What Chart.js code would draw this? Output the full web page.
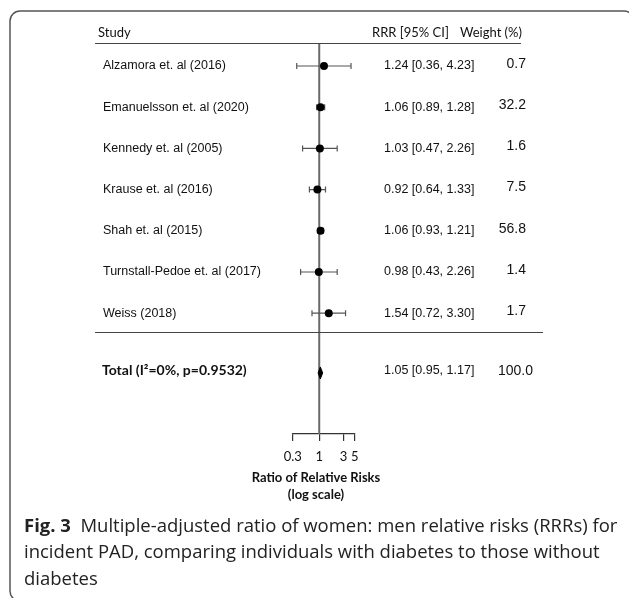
<!DOCTYPE html>
<html>
<head>
<meta charset="utf-8">
<script src="https://cdn.jsdelivr.net/npm/chart.js@4"></script>
<style>
  html, body { margin: 0; padding: 0; background: #fff; }
  #wrap { width: 629px; height: 598px; }
</style>
</head>
<body>
<div id="wrap"><canvas id="forest" width="629" height="598"></canvas></div>
<script>
/* =========================
   DATA
========================= */
const studies = [
  "Alzamora et. al (2016)",
  "Emanuelsson et. al (2020)",
  "Kennedy et. al (2005)",
  "Krause et. al (2016)",
  "Shah et. al (2015)",
  "Turnstall-Pedoe et. al (2017)",
  "Weiss (2018)"
];
const rrr = [1.24, 1.06, 1.03, 0.92, 1.06, 0.98, 1.54];
const ciLow = [0.36, 0.89, 0.47, 0.64, 0.93, 0.43, 0.72];
const ciHigh = [4.23, 1.28, 2.26, 1.33, 1.21, 2.26, 3.30];
const weights = ["0.7", "32.2", "1.6", "7.5", "56.8", "1.4", "1.7"];
const rowPos = [0, 1, 2, 3, 4, 5, 6];

const totalLabel = "Total (I²=0%, p=0.9532)";
const totalRRR = 1.05;
const totalLow = 0.95;
const totalHigh = 1.17;
const totalWeight = "100.0";
const totalPos = 7.45;

const tickValues = [0.3, 1, 3, 5];

const captionBold = "Fig. 3";
const captionLines = [
  "Multiple-adjusted ratio of women: men relative risks (RRRs) for",
  "incident PAD, comparing individuals with diabetes to those without",
  "diabetes"
];

const fmt = (v) => v.toFixed(2);

/* =========================
   PLUGIN: frame, whiskers, text
========================= */
const forestPlugin = {
  id: "forest",
  beforeDatasetsDraw(chart) {
    const ctx = chart.ctx;
    const xs = chart.scales.x;
    const ys = chart.scales.y;
    const area = chart.chartArea;

    // reference line at 1
    const x1 = xs.getPixelForValue(1);
    ctx.save();
    ctx.strokeStyle = "#6a6a6a";
    ctx.lineWidth = 2;
    ctx.beginPath();
    ctx.moveTo(x1, area.top);
    ctx.lineTo(x1, area.bottom);
    ctx.stroke();

    // confidence intervals
    ctx.strokeStyle = "#555";
    ctx.lineWidth = 1.2;
    rowPos.forEach((p, i) => {
      const y = ys.getPixelForValue(p);
      const a = xs.getPixelForValue(ciLow[i]);
      const b = xs.getPixelForValue(ciHigh[i]);
      ctx.beginPath();
      ctx.moveTo(a, y);
      ctx.lineTo(b, y);
      ctx.moveTo(a, y - 3);
      ctx.lineTo(a, y + 3);
      ctx.moveTo(b, y - 3);
      ctx.lineTo(b, y + 3);
      ctx.stroke();
    });
    ctx.restore();
  },
  afterDatasetsDraw(chart) {
    const ctx = chart.ctx;
    const xs = chart.scales.x;
    const ys = chart.scales.y;

    // pooled estimate diamond
    const y = ys.getPixelForValue(totalPos);
    ctx.save();
    ctx.fillStyle = "#000";
    ctx.strokeStyle = "#000";
    ctx.lineWidth = 1;
    ctx.beginPath();
    ctx.moveTo(xs.getPixelForValue(totalLow), y);
    ctx.lineTo(xs.getPixelForValue(totalRRR), y - 6);
    ctx.lineTo(xs.getPixelForValue(totalHigh), y);
    ctx.lineTo(xs.getPixelForValue(totalRRR), y + 6);
    ctx.closePath();
    ctx.fill();
    ctx.stroke();
    ctx.restore();
  },
  afterDraw(chart) {
    const ctx = chart.ctx;
    const ys = chart.scales.y;
    ctx.save();

    // outer frame
    ctx.strokeStyle = "#555";
    ctx.lineWidth = 1.5;
    ctx.beginPath();
    ctx.roundRect(10, 11, 624, 590, 10);
    ctx.stroke();

    // header
    ctx.fillStyle = "#111";
    ctx.textBaseline = "middle";
    ctx.font = "13px Lato";
    ctx.textAlign = "left";
    ctx.fillText("Study", 98, 33);
    ctx.fillText("RRR [95% CI]", 372, 33);
    ctx.fillText("Weight (%)", 460, 33);

    ctx.strokeStyle = "#444";
    ctx.lineWidth = 1;
    ctx.beginPath();
    ctx.moveTo(95, 43.5);
    ctx.lineTo(521, 43.5);
    ctx.moveTo(95, 332.5);
    ctx.lineTo(543, 332.5);
    ctx.stroke();

    // study rows
    rowPos.forEach((p, i) => {
      const y = ys.getPixelForValue(p);
      ctx.textAlign = "left";
      ctx.font = "12.5px 'Liberation Sans'";
      ctx.fillText(studies[i], 103, y);
      ctx.fillText(fmt(rrr[i]) + " [" + fmt(ciLow[i]) + ", " + fmt(ciHigh[i]) + "]", 384, y);
      ctx.textAlign = "right";
      ctx.font = "14px 'Liberation Sans'";
      ctx.fillText(weights[i], 526, y - 2);
    });

    // total row
    const ty = ys.getPixelForValue(totalPos) - 2;
    ctx.textAlign = "left";
    ctx.font = "bold 14px Lato";
    ctx.fillText(totalLabel, 102, ty);
    ctx.font = "12.5px 'Liberation Sans'";
    ctx.fillText(fmt(totalRRR) + " [" + fmt(totalLow) + ", " + fmt(totalHigh) + "]", 384, ty);
    ctx.textAlign = "right";
    ctx.font = "14px 'Liberation Sans'";
    ctx.fillText(totalWeight, 533, ty);

    // axis title
    ctx.textAlign = "center";
    ctx.font = "bold 13px Lato";
    ctx.fillText("Ratio of Relative Risks", 316, 478);
    ctx.fillText("(log scale)", 316, 495);

    // caption, sized so the second line ends near x=600
    const capX = 24;
    ctx.textAlign = "left";
    ctx.fillStyle = "#222";
    ctx.font = "20px 'Open Sans'";
    const size = 20 * (600 - capX) / ctx.measureText(captionLines[1]).width;
    ctx.font = "bold " + size + "px 'Open Sans'";
    ctx.fillText(captionBold, capX, 527);
    const boldW = ctx.measureText(captionBold + "  ").width;
    ctx.font = size + "px 'Open Sans'";
    ctx.fillText(captionLines[0], capX + boldW, 527);
    ctx.fillText(captionLines[1], capX, 553);
    ctx.fillText(captionLines[2], capX, 580);

    ctx.restore();
  }
};

/* =========================
   CHART
========================= */
new Chart(document.getElementById("forest"), {
  type: "scatter",
  data: {
    datasets: [{
      data: rowPos.map((p, i) => ({ x: rrr[i], y: p })),
      pointRadius: 4,
      pointBackgroundColor: "#000",
      pointBorderColor: "#000",
      pointBorderWidth: 0,
      pointHoverRadius: 4
    }]
  },
  options: {
    responsive: false,
    animation: false,
    events: [],
    layout: { padding: { left: 292.7, right: 274.3, top: 44, bottom: 124 } },
    plugins: { legend: { display: false }, tooltip: { enabled: false } },
    scales: {
      x: {
        type: "logarithmic",
        min: 0.3,
        max: 5,
        afterBuildTicks: (s) => { s.ticks = tickValues.map((v) => ({ value: v })); },
        afterFit: (s) => { s.height = 40; },
        ticks: {
          autoSkip: false,
          maxRotation: 0,
          padding: 8,
          color: "#111",
          font: { family: "Lato", size: 13 },
          callback: (v) => String(v)
        },
        grid: { drawOnChartArea: false, drawTicks: true, tickLength: 7, color: "#333", lineWidth: 1.2 },
        border: { display: true, color: "#333", width: 1.2 }
      },
      y: {
        type: "linear",
        min: -0.534,
        max: 8.932,
        reverse: true,
        display: false
      }
    }
  },
  plugins: [forestPlugin]
});
</script>
</body>
</html>
